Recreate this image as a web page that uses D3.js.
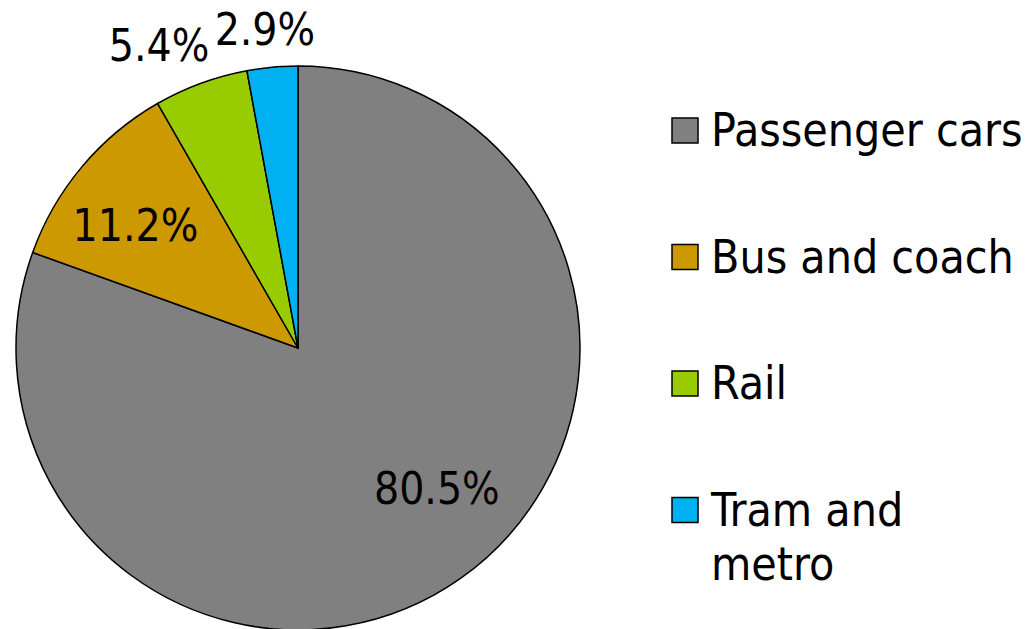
<!DOCTYPE html>
<html>
<head>
<meta charset="utf-8">
<script src="https://cdn.jsdelivr.net/npm/d3@7"></script>
<style>
  html, body { margin: 0; padding: 0; background: #fff; }
  svg { display: block; }
</style>
</head>
<body>
<svg id="chart" width="1036" height="629"></svg>
<script>
// Passenger transport modal split
const categories = ["Passenger cars", "Bus and coach", "Rail", "Tram and metro"];
const shares = [80.5, 11.2, 5.4, 2.9];
const labels = ["80.5%", "11.2%", "5.4%", "2.9%"];
const colors = ["#808080", "#CC9900", "#99CC00", "#00B0F0"];

const svg = d3.select("#chart");
const cx = 298, cy = 348, radius = 282;
const font = "'DejaVu Sans Condensed', 'DejaVu Sans', sans-serif";

const pie = d3.pie().sort(null).value(d => d.value).startAngle(0).endAngle(2 * Math.PI);
const data = categories.map((c, i) => ({ name: c, value: shares[i], label: labels[i], color: colors[i] }));
const arcs = pie(data);

const arc = d3.arc().innerRadius(0).outerRadius(radius);

const g = svg.append("g").attr("transform", `translate(${cx},${cy})`);

g.selectAll("path.slice")
  .data(arcs)
  .join("path")
  .attr("class", "slice")
  .attr("d", arc)
  .attr("fill", d => d.data.color)
  .attr("stroke", "#000")
  .attr("stroke-width", 1.5)
  .attr("stroke-linejoin", "round");

// Label placement: radius and a small angular shift (degrees) from each slice's mid-angle
const labelRadius = [197, 204, 333, 321];
const labelShift = [-9.7, -2.8, -4.5, -0.7];
g.selectAll("text.pct")
  .data(arcs)
  .join("text")
  .attr("class", "pct")
  .attr("transform", (d, i) => {
    const a = (d.startAngle + d.endAngle) / 2 + labelShift[i] * Math.PI / 180;
    const r = labelRadius[i];
    return `translate(${r * Math.sin(a)},${-r * Math.cos(a)})`;
  })
  .attr("text-anchor", "middle")
  .attr("dy", "0.36em")
  .attr("font-family", font)
  .attr("font-size", 44)
  .attr("fill", "#000")
  .text(d => d.data.label);

// Legend
const legend = svg.append("g").attr("transform", "translate(672,118)");
const rowStep = 126.5;
const items = legend.selectAll("g.item")
  .data(data)
  .join("g")
  .attr("class", "item")
  .attr("transform", (d, i) => `translate(0,${i * rowStep})`);

items.append("rect")
  .attr("x", 0).attr("y", 0)
  .attr("width", 26).attr("height", 25)
  .attr("fill", d => d.color)
  .attr("stroke", "#000")
  .attr("stroke-width", 1.5);

const legendLines = [["Passenger cars"], ["Bus and coach"], ["Rail"], ["Tram and", "metro"]];
items.append("text")
  .attr("x", 39)
  .attr("y", 28)
  .attr("font-family", font)
  .attr("font-size", 46)
  .attr("fill", "#000")
  .selectAll("tspan")
  .data((d, i) => legendLines[i])
  .join("tspan")
  .attr("x", 39)
  .attr("dy", (t, j) => j === 0 ? 0 : 54)
  .text(t => t);
</script>
</body>
</html>
